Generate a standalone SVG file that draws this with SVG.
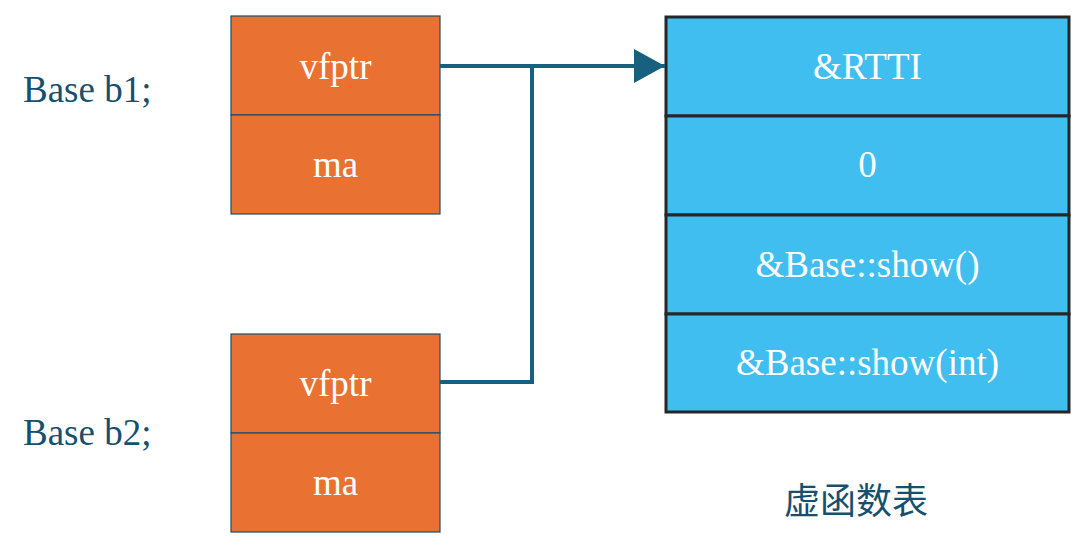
<svg xmlns="http://www.w3.org/2000/svg" width="1085" height="550" viewBox="0 0 1085 550">
<style>
.lbl{font-family:"Liberation Serif","Times New Roman",serif;font-size:37px;fill:#16506e}
.cell{font-family:"Liberation Serif","Times New Roman",serif;font-size:37px;fill:#ffffff;text-anchor:middle}
.obj{fill:#E97132;stroke:#1b4f6b;stroke-width:1.2}
.vt{fill:#41BEF0;stroke:#262626;stroke-width:3}
.conn{fill:none;stroke:#17607f;stroke-width:4;stroke-linejoin:miter}
.cjk{font-family:"Liberation Serif","Noto Sans CJK SC",serif;font-size:36px;fill:#16506e;text-anchor:middle}
</style>
<defs>
<marker id="arr" markerUnits="userSpaceOnUse" markerWidth="32" markerHeight="34" refX="31" refY="17" orient="auto">
<path d="M0,0 L31,17 L0,34 Z" fill="#17607f"/>
</marker>
</defs>
<rect width="1085" height="550" fill="#ffffff"/>
<g id="label-b1"><text class="lbl" x="23" y="102">Base b1;</text></g>
<g id="label-b2"><text class="lbl" x="23" y="445">Base b2;</text></g>
<g id="b1">
<rect class="obj" x="231" y="16" width="209" height="99"/>
<rect class="obj" x="231" y="115" width="209" height="99"/>
<text class="cell" x="335.5" y="79">vfptr</text>
<text class="cell" x="335.5" y="177">ma</text>
</g>
<g id="b2">
<rect class="obj" x="231" y="334" width="209" height="99"/>
<rect class="obj" x="231" y="433" width="209" height="99"/>
<text class="cell" x="335.5" y="396">vfptr</text>
<text class="cell" x="335.5" y="495">ma</text>
</g>
<g id="vtable">
<rect class="vt" x="666" y="17" width="403" height="99"/>
<rect class="vt" x="666" y="116" width="403" height="99"/>
<rect class="vt" x="666" y="215" width="403" height="99"/>
<rect class="vt" x="666" y="314" width="403" height="98"/>
<text class="cell" x="867.5" y="79">&amp;RTTI</text>
<text class="cell" x="867.5" y="177">0</text>
<text class="cell" x="867.5" y="277">&amp;Base::show()</text>
<text class="cell" x="867.5" y="375">&amp;Base::show(int)</text>
</g>
<g id="vtable-caption"><text class="cjk" x="856" y="514">虚函数表</text></g>
<g id="connectors">
<path class="conn" d="M440,66 L665,66" marker-end="url(#arr)"/>
<path class="conn" d="M440,382 L532,382 L532,66"/>
</g>
</svg>
